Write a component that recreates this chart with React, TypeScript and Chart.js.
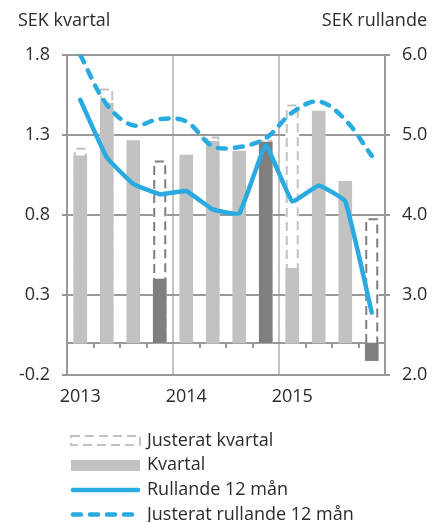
import React, { useEffect, useRef } from "react";
import { Chart, registerables } from "chart.js";

Chart.register(...registerables);

const quarters = [
  "2013 K1", "2013 K2", "2013 K3", "2013 K4",
  "2014 K1", "2014 K2", "2014 K3", "2014 K4",
  "2015 K1", "2015 K2", "2015 K3", "2015 K4",
];
const yearLabels = ["2013", "2014", "2015"];
const kvartal = [1.17, 1.5, 1.265, 0.4, 1.175, 1.26, 1.2, 1.255, 0.467, 1.45, 1.01, -0.11];
const justeratKvartal = [1.22, 1.59, null, 1.14, null, 1.29, null, 1.27, 1.49, null, null, 0.78];
const rullande = [5.44, 4.72, 4.39, 4.26, 4.3, 4.07, 4.02, 4.87, 4.17, 4.37, 4.17, 2.78];
const justeratRullande = [6.0, 5.38, 5.12, 5.2, 5.17, 4.86, 4.85, 4.96, 5.28, 5.42, 5.19, 4.74];
const specialQuarters = [3, 7, 11];

const leftTitle = "SEK kvartal";
const rightTitle = "SEK rullande";
const legendLabels = ["Justerat kvartal", "Kvartal", "Rullande 12 mån", "Justerat rullande 12 mån"];

const BLUE = "#29abe2";
const LIGHT = "#c2c2c2";
const DARK = "#7f7f7f";
const GRID = "#999999";
const FONT = "'Open Sans', sans-serif";
const FS = 18;
const TEXT = "#2b2b2b";

export default function App() {
  const ref = useRef<HTMLCanvasElement | null>(null);

  useEffect(() => {
    document.body.style.margin = "0";
    const canvas = ref.current!;

    const dashedBars = {
      id: "dashedBars",
      afterDatasetDraw(chart: any, args: any) {
        if (args.index !== 1) return;
        const ctx = chart.ctx;
        const meta = chart.getDatasetMeta(1);
        ctx.save();
        ctx.lineWidth = 2;
        ctx.setLineDash([9, 5]);
        meta.data.forEach((el: any, i: number) => {
          if (justeratKvartal[i] == null) return;
          const p = el.getProps(["x", "y", "base", "width"], true);
          ctx.strokeStyle = specialQuarters.includes(i) && i !== 7 ? DARK : LIGHT;
          const l = p.x - p.width / 2 + 1;
          const r = p.x + p.width / 2 - 1;
          ctx.beginPath();
          ctx.moveTo(l, p.base);
          ctx.lineTo(l, p.y + 1);
          ctx.lineTo(r, p.y + 1);
          ctx.lineTo(r, p.base);
          ctx.stroke();
        });
        ctx.restore();
      },
    };

    const zeroLine = {
      id: "zeroLine",
      beforeDatasetsDraw(chart: any) {
        const ctx = chart.ctx;
        const y = chart.scales.y;
        const x = chart.scales.x;
        const y0 = Math.round(y.getPixelForValue(0));
        ctx.save();
        ctx.strokeStyle = GRID;
        ctx.lineWidth = 2;
        ctx.beginPath();
        ctx.moveTo(chart.chartArea.left, y0);
        ctx.lineTo(chart.chartArea.right, y0);
        ctx.stroke();
        for (let i = 1; i < quarters.length; i++) {
          if (i % 4 === 0) continue;
          const xp = Math.round((x.getPixelForValue(i - 1) + x.getPixelForValue(i)) / 2);
          ctx.beginPath();
          ctx.moveTo(xp, y0);
          ctx.lineTo(xp, y0 + 5);
          ctx.stroke();
        }
        ctx.restore();
      },
    };

    const extras = {
      id: "extras",
      afterDraw(chart: any) {
        const ctx = chart.ctx;
        ctx.save();
        ctx.fillStyle = TEXT;
        ctx.font = `${FS}px ${FONT}`;
        ctx.textBaseline = "middle";
        ctx.textAlign = "left";
        ctx.fillText(leftTitle, 18, 21);
        ctx.textAlign = "right";
        ctx.fillText(rightTitle, 427, 21);

        const x0 = 71, x1 = 140, tx = 147;
        const ys = [441, 465, 490, 514.5];
        ctx.textAlign = "left";
        legendLabels.forEach((t, i) => ctx.fillText(t, tx, ys[i]));
        ctx.strokeStyle = LIGHT;
        ctx.lineWidth = 2;
        ctx.setLineDash([9, 5]);
        ctx.strokeRect(x0, 436, x1 - x0, 9);
        ctx.setLineDash([]);
        ctx.fillStyle = LIGHT;
        ctx.fillRect(x0, 460, x1 - x0, 11);
        ctx.strokeStyle = BLUE;
        ctx.lineWidth = 4.5;
        ctx.lineCap = "round";
        ctx.beginPath();
        ctx.moveTo(x0 + 2, ys[2]);
        ctx.lineTo(x1 - 2, ys[2]);
        ctx.stroke();
        ctx.setLineDash([8, 9]);
        ctx.beginPath();
        ctx.moveTo(x0 + 2, ys[3]);
        ctx.lineTo(x1 - 2, ys[3]);
        ctx.stroke();
        ctx.restore();
      },
    };

    const chart = new Chart(canvas, {
      type: "bar",
      data: {
        labels: quarters,
        datasets: [
          {
            type: "bar",
            label: legendLabels[1],
            data: kvartal,
            backgroundColor: kvartal.map((_, i) => (specialQuarters.includes(i) ? DARK : LIGHT)),
            barThickness: 13,
            grouped: false,
            order: 1,
            yAxisID: "y",
          },
          {
            type: "bar",
            label: legendLabels[0],
            data: justeratKvartal,
            backgroundColor: "rgba(255,255,255,1)",
            borderWidth: 0,
            barThickness: 13,
            grouped: false,
            order: 2,
            yAxisID: "y",
          },
          {
            type: "line",
            label: legendLabels[2],
            data: rullande,
            borderColor: BLUE,
            borderWidth: 4.5,
            pointRadius: 0,
            tension: 0.1,
            borderJoinStyle: "round",
            borderCapStyle: "round",
            order: 0,
            yAxisID: "y2",
          },
          {
            type: "line",
            label: legendLabels[3],
            data: justeratRullande,
            borderColor: BLUE,
            borderWidth: 4.5,
            borderDash: [8, 9],
            borderCapStyle: "round",
            pointRadius: 0,
            tension: 0.35,
            order: 0,
            yAxisID: "y2",
          },
        ],
      } as any,
      options: {
        responsive: false,
        animation: false,
        events: [],
        layout: { padding: { top: 55, bottom: 112, left: 0, right: 0 } },
        plugins: { legend: { display: false }, tooltip: { enabled: false } },
        scales: {
          x: {
            type: "category",
            offset: true,
            afterFit: (s: any) => { s.height = 35; },
            grid: {
              offset: true,
              drawTicks: false,
              lineWidth: 2,
              color: (c: any) => (c.index === 4 || c.index === 8 ? "#c4c4c4" : "rgba(0,0,0,0)"),
            },
            border: { display: false },
            ticks: {
              autoSkip: false,
              maxRotation: 0,
              padding: 11,
              color: TEXT,
              font: { family: FONT, size: FS },
              callback: (_v: any, i: number) => (i % 4 === 0 ? yearLabels[i / 4] : ""),
            },
          },
          y: {
            position: "left",
            min: -0.2,
            max: 1.8,
            afterFit: (s: any) => { s.width = 67; },
            grid: { color: GRID, lineWidth: 2, tickLength: 5 },
            border: { color: GRID, width: 2 },
            ticks: {
              stepSize: 0.5,
              padding: 12,
              color: TEXT,
              font: { family: FONT, size: FS },
              callback: (v: any) => Number(v).toFixed(1),
            },
          },
          y2: {
            position: "right",
            min: 2,
            max: 6,
            afterFit: (s: any) => { s.width = 58; },
            grid: { drawOnChartArea: false, color: GRID, lineWidth: 2, tickLength: 5 },
            border: { color: GRID, width: 2 },
            ticks: {
              stepSize: 1,
              padding: 12,
              color: TEXT,
              font: { family: FONT, size: FS },
              callback: (v: any) => Number(v).toFixed(1),
            },
          },
        },
      } as any,
      plugins: [zeroLine, dashedBars, extras],
    });
    return () => chart.destroy();
  }, []);

  return (
    <div style={{ width: 443, height: 522 }}>
      <canvas ref={ref} width={443} height={522} style={{ display: "block", width: 443, height: 522 }} />
    </div>
  );
}
